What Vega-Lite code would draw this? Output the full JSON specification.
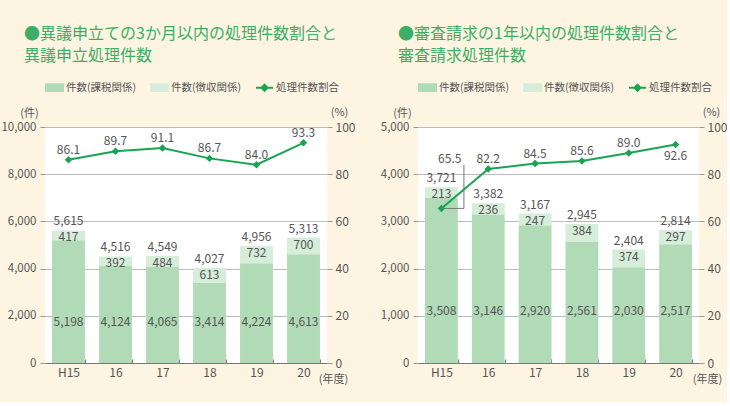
{
  "$schema": "https://vega.github.io/schema/vega-lite/v6.json",
  "background": "#FEF4E2",
  "padding": {"left": 0, "top": 26, "right": 0, "bottom": 18},
  "spacing": 25,
  "config": {
    "font": "Noto Sans CJK JP",
    "view": {"fill": "white", "stroke": null},
    "axis": {"labelFont": "Noto Sans CJK JP", "titleFont": "Noto Sans CJK JP"}
  },
  "resolve": {"scale": {"color": "independent", "x": "independent", "y": "independent"}, "legend": {"color": "independent"}},
  "datasets": {
    "left": [
      {"year": "H15", "kazei": 5198, "choshu": 417, "total": 5615, "pct": 86.1},
      {"year": "16", "kazei": 4124, "choshu": 392, "total": 4516, "pct": 89.7},
      {"year": "17", "kazei": 4065, "choshu": 484, "total": 4549, "pct": 91.1},
      {"year": "18", "kazei": 3414, "choshu": 613, "total": 4027, "pct": 86.7},
      {"year": "19", "kazei": 4224, "choshu": 732, "total": 4956, "pct": 84.0},
      {"year": "20", "kazei": 4613, "choshu": 700, "total": 5313, "pct": 93.3}
    ],
    "right": [
      {"year": "H15", "kazei": 3508, "choshu": 213, "total": 3721, "pct": 65.5},
      {"year": "16", "kazei": 3146, "choshu": 236, "total": 3382, "pct": 82.2},
      {"year": "17", "kazei": 2920, "choshu": 247, "total": 3167, "pct": 84.5},
      {"year": "18", "kazei": 2561, "choshu": 384, "total": 2945, "pct": 85.6},
      {"year": "19", "kazei": 2030, "choshu": 374, "total": 2404, "pct": 89.0},
      {"year": "20", "kazei": 2517, "choshu": 297, "total": 2814, "pct": 92.6}
    ]
  },
  "hconcat": [
    {
      "width": 282,
      "height": 236,
      "data": {"name": "left"},
      "title": {"text": ["●異議申立ての3か月以内の処理件数割合と", "異議申立処理件数"], "anchor": "start", "frame": "group", "dx": -21, "fontSize": 16, "fontWeight": "normal", "color": "#3DAE66", "lineHeight": 22, "offset": 14},
      "resolve": {"scale": {"y": "independent"}},
      "layer": [
        {
          "layer": [
            {
              "mark": {"type": "bar"},
              "encoding": {
                "x": {"field": "year", "type": "nominal", "sort": ["H15", "16", "17", "18", "19", "20"], "scale": {"paddingInner": 0.3, "paddingOuter": 0.15},
                  "axis": {"title": "(年度)", "titleX": 288, "titleY": 16, "titleAngle": 0, "titleAlign": "center", "titleBaseline": "middle", "titleFontWeight": "normal", "titleFontSize": 11, "titleColor": "#555", "labelAngle": 0, "labelFontSize": 12, "labelColor": "#555", "labelPadding": 8, "domainColor": "#777", "tickBand": "extent", "tickSize": -4, "tickColor": "#777"}},
                "y": {"field": "kazei", "type": "quantitative", "scale": {"domain": [0, 10000]},
                  "axis": {"values": [0, 2000, 4000, 6000, 8000, 10000], "format": ",d", "grid": true, "gridColor": "#BBBBBB", "domain": false, "tickSize": 5, "tickColor": "#999", "labelPadding": 4, "labelFontSize": 11.5, "labelColor": "#555", "title": "(件)", "titleAngle": 0, "titleX": -16, "titleY": -14, "titleAlign": "center", "titleBaseline": "middle", "titleFontWeight": "normal", "titleFontSize": 11, "titleColor": "#555"}},
                "color": {"datum": "件数(課税関係)", "type": "nominal",
                  "scale": {"domain": ["件数(課税関係)", "件数(徴収関係)", "処理件数割合"], "range": ["#B1DAB7", "#D5EDD9", "#1BA354"]},
                  "legend": {"orient": "top", "direction": "horizontal", "title": null, "labelFontSize": 10.5, "labelColor": "#555", "columnPadding": 10, "symbolSize": 289, "labelOffset": 2, "offset": 32,
                    "encode": {"symbols": {"update": {
                      "shape": {"signal": "datum.value === '処理件数割合' ? 'M-1,0H1M-0.35,0L0,-0.35L0.35,0L0,0.35Z' : 'M-1,-0.4H1V0.4H-1Z'"},
                      "fill": {"signal": "datum.value === '件数(課税関係)' ? '#B1DAB7' : datum.value === '件数(徴収関係)' ? '#D5EDD9' : '#1BA354'"},
                      "stroke": {"signal": "datum.value === '処理件数割合' ? '#1BA354' : null"},
                      "strokeWidth": {"value": 2},
                      "opacity": {"value": 1}}}}}}
              }
            },
            {
              "mark": {"type": "bar"},
              "encoding": {
                "x": {"field": "year", "type": "nominal", "sort": ["H15", "16", "17", "18", "19", "20"]},
                "y": {"field": "total", "type": "quantitative"},
                "y2": {"field": "kazei"},
                "color": {"datum": "件数(徴収関係)", "type": "nominal"}
              }
            },
            {
              "mark": {"type": "text", "baseline": "bottom", "dy": -2, "fontSize": 12, "color": "#555"},
              "encoding": {
                "x": {"field": "year", "type": "nominal", "sort": ["H15", "16", "17", "18", "19", "20"]},
                "y": {"field": "total", "type": "quantitative"},
                "text": {"field": "total", "type": "quantitative", "format": ","}
              }
            },
            {
              "mark": {"type": "text", "baseline": "middle", "dy": 7, "fontSize": 12, "color": "#555"},
              "encoding": {
                "x": {"field": "year", "type": "nominal", "sort": ["H15", "16", "17", "18", "19", "20"]},
                "y": {"field": "total", "type": "quantitative"},
                "text": {"field": "choshu", "type": "quantitative", "format": ","}
              }
            },
            {
              "mark": {"type": "text", "baseline": "middle", "fontSize": 12, "color": "#555"},
              "encoding": {
                "x": {"field": "year", "type": "nominal", "sort": ["H15", "16", "17", "18", "19", "20"]},
                "y": {"datum": 1750, "type": "quantitative"},
                "text": {"field": "kazei", "type": "quantitative", "format": ","}
              }
            }
          ]
        },
        {
          "layer": [
            {
              "mark": {"type": "line", "strokeWidth": 2},
              "encoding": {
                "x": {"field": "year", "type": "nominal", "sort": ["H15", "16", "17", "18", "19", "20"]},
                "y": {"field": "pct", "type": "quantitative", "scale": {"domain": [0, 100]},
                  "axis": {"orient": "right", "values": [0, 20, 40, 60, 80, 100], "format": "d", "grid": false, "domain": false, "tickSize": 5, "tickColor": "#999", "labelPadding": 3, "labelFontSize": 12, "labelColor": "#555", "title": "(%)", "titleAngle": 0, "titleX": 12, "titleY": -15, "titleAlign": "center", "titleBaseline": "middle", "titleFontWeight": "normal", "titleFontSize": 11, "titleColor": "#555"}},
                "color": {"datum": "処理件数割合", "type": "nominal"}
              }
            },
            {
              "mark": {"type": "point", "shape": "diamond", "filled": true, "size": 55, "color": "#1BA354", "opacity": 1},
              "encoding": {
                "x": {"field": "year", "type": "nominal", "sort": ["H15", "16", "17", "18", "19", "20"]},
                "y": {"field": "pct", "type": "quantitative"}
              }
            },
            {
              "mark": {"type": "text", "baseline": "middle", "dy": -10, "fontSize": 12, "color": "#555"},
              "encoding": {
                "x": {"field": "year", "type": "nominal", "sort": ["H15", "16", "17", "18", "19", "20"]},
                "y": {"field": "pct", "type": "quantitative"},
                "text": {"field": "pct", "type": "quantitative", "format": ".1f"}
              }
            }
          ]
        }
      ]
    },
    {
      "width": 281,
      "height": 236,
      "data": {"name": "right"},
      "title": {"text": ["●審査請求の1年以内の処理件数割合と", "審査請求処理件数"], "anchor": "start", "frame": "group", "dx": -20, "fontSize": 16, "fontWeight": "normal", "color": "#3DAE66", "lineHeight": 22, "offset": 14},
      "resolve": {"scale": {"y": "independent"}},
      "layer": [
        {
          "layer": [
            {
              "mark": {"type": "bar"},
              "encoding": {
                "x": {"field": "year", "type": "nominal", "sort": ["H15", "16", "17", "18", "19", "20"], "scale": {"paddingInner": 0.3, "paddingOuter": 0.15},
                  "axis": {"title": "(年度)", "titleX": 289, "titleY": 16, "titleAngle": 0, "titleAlign": "center", "titleBaseline": "middle", "titleFontWeight": "normal", "titleFontSize": 11, "titleColor": "#555", "labelAngle": 0, "labelFontSize": 12, "labelColor": "#555", "labelPadding": 8, "domainColor": "#777", "tickBand": "extent", "tickSize": -4, "tickColor": "#777"}},
                "y": {"field": "kazei", "type": "quantitative", "scale": {"domain": [0, 5000]},
                  "axis": {"values": [0, 1000, 2000, 3000, 4000, 5000], "format": ",d", "grid": true, "gridColor": "#BBBBBB", "domain": false, "tickSize": 5, "tickColor": "#999", "labelPadding": 4, "labelFontSize": 11.5, "labelColor": "#555", "title": "(件)", "titleAngle": 0, "titleX": -16, "titleY": -14, "titleAlign": "center", "titleBaseline": "middle", "titleFontWeight": "normal", "titleFontSize": 11, "titleColor": "#555"}},
                "color": {"datum": "件数(課税関係)", "type": "nominal",
                  "scale": {"domain": ["件数(課税関係)", "件数(徴収関係)", "処理件数割合"], "range": ["#B1DAB7", "#D5EDD9", "#1BA354"]},
                  "legend": {"orient": "top", "direction": "horizontal", "title": null, "labelFontSize": 10.5, "labelColor": "#555", "columnPadding": 10, "symbolSize": 289, "labelOffset": 2, "offset": 32,
                    "encode": {"symbols": {"update": {
                      "shape": {"signal": "datum.value === '処理件数割合' ? 'M-1,0H1M-0.35,0L0,-0.35L0.35,0L0,0.35Z' : 'M-1,-0.4H1V0.4H-1Z'"},
                      "fill": {"signal": "datum.value === '件数(課税関係)' ? '#B1DAB7' : datum.value === '件数(徴収関係)' ? '#D5EDD9' : '#1BA354'"},
                      "stroke": {"signal": "datum.value === '処理件数割合' ? '#1BA354' : null"},
                      "strokeWidth": {"value": 2},
                      "opacity": {"value": 1}}}}}}
              }
            },
            {
              "mark": {"type": "bar"},
              "encoding": {
                "x": {"field": "year", "type": "nominal", "sort": ["H15", "16", "17", "18", "19", "20"]},
                "y": {"field": "total", "type": "quantitative"},
                "y2": {"field": "kazei"},
                "color": {"datum": "件数(徴収関係)", "type": "nominal"}
              }
            },
            {
              "mark": {"type": "text", "baseline": "bottom", "dy": -2, "fontSize": 12, "color": "#555"},
              "encoding": {
                "x": {"field": "year", "type": "nominal", "sort": ["H15", "16", "17", "18", "19", "20"]},
                "y": {"field": "total", "type": "quantitative"},
                "text": {"field": "total", "type": "quantitative", "format": ","}
              }
            },
            {
              "mark": {"type": "text", "baseline": "middle", "dy": 7, "fontSize": 12, "color": "#555"},
              "encoding": {
                "x": {"field": "year", "type": "nominal", "sort": ["H15", "16", "17", "18", "19", "20"]},
                "y": {"field": "total", "type": "quantitative"},
                "text": {"field": "choshu", "type": "quantitative", "format": ","}
              }
            },
            {
              "mark": {"type": "text", "baseline": "middle", "fontSize": 12, "color": "#555"},
              "encoding": {
                "x": {"field": "year", "type": "nominal", "sort": ["H15", "16", "17", "18", "19", "20"]},
                "y": {"datum": 1100, "type": "quantitative"},
                "text": {"field": "kazei", "type": "quantitative", "format": ","}
              }
            }
          ]
        },
        {
          "layer": [
            {
              "transform": [{"filter": "datum.year === 'H15'"}],
              "mark": {"type": "rule", "color": "#777", "strokeWidth": 1, "x2Offset": 22.5},
              "encoding": {
                "x": {"field": "year", "type": "nominal", "sort": ["H15", "16", "17", "18", "19", "20"]},
                "x2": {"field": "year"},
                "y": {"field": "pct", "type": "quantitative"}
              }
            },
            {
              "transform": [{"filter": "datum.year === 'H15'"}],
              "mark": {"type": "rule", "color": "#777", "strokeWidth": 1, "xOffset": 22.5},
              "encoding": {
                "x": {"field": "year", "type": "nominal", "sort": ["H15", "16", "17", "18", "19", "20"]},
                "y": {"field": "pct", "type": "quantitative"},
                "y2": {"datum": 84}
              }
            },
            {
              "mark": {"type": "line", "strokeWidth": 2},
              "encoding": {
                "x": {"field": "year", "type": "nominal", "sort": ["H15", "16", "17", "18", "19", "20"]},
                "y": {"field": "pct", "type": "quantitative", "scale": {"domain": [0, 100]},
                  "axis": {"orient": "right", "values": [0, 20, 40, 60, 80, 100], "format": "d", "grid": false, "domain": false, "tickSize": 5, "tickColor": "#999", "labelPadding": 3, "labelFontSize": 12, "labelColor": "#555", "title": "(%)", "titleAngle": 0, "titleX": 12, "titleY": -15, "titleAlign": "center", "titleBaseline": "middle", "titleFontWeight": "normal", "titleFontSize": 11, "titleColor": "#555"}},
                "color": {"datum": "処理件数割合", "type": "nominal"}
              }
            },
            {
              "mark": {"type": "point", "shape": "diamond", "filled": true, "size": 55, "color": "#1BA354", "opacity": 1},
              "encoding": {
                "x": {"field": "year", "type": "nominal", "sort": ["H15", "16", "17", "18", "19", "20"]},
                "y": {"field": "pct", "type": "quantitative"}
              }
            },
            {
              "transform": [{"filter": "datum.year !== 'H15' && datum.year !== '20'"}],
              "mark": {"type": "text", "baseline": "middle", "dy": -10, "fontSize": 12, "color": "#555"},
              "encoding": {
                "x": {"field": "year", "type": "nominal", "sort": ["H15", "16", "17", "18", "19", "20"]},
                "y": {"field": "pct", "type": "quantitative"},
                "text": {"field": "pct", "type": "quantitative", "format": ".1f"}
              }
            },
            {
              "transform": [{"filter": "datum.year === '20'"}],
              "mark": {"type": "text", "baseline": "middle", "dy": 12, "fontSize": 12, "color": "#555"},
              "encoding": {
                "x": {"field": "year", "type": "nominal", "sort": ["H15", "16", "17", "18", "19", "20"]},
                "y": {"field": "pct", "type": "quantitative"},
                "text": {"field": "pct", "type": "quantitative", "format": ".1f"}
              }
            },
            {
              "transform": [{"filter": "datum.year === 'H15'"}],
              "mark": {"type": "text", "baseline": "middle", "align": "right", "dx": 20, "dy": -49, "fontSize": 12, "color": "#555"},
              "encoding": {
                "x": {"field": "year", "type": "nominal", "sort": ["H15", "16", "17", "18", "19", "20"]},
                "y": {"field": "pct", "type": "quantitative"},
                "text": {"field": "pct", "type": "quantitative", "format": ".1f"}
              }
            }
          ]
        }
      ]
    }
  ]
}
